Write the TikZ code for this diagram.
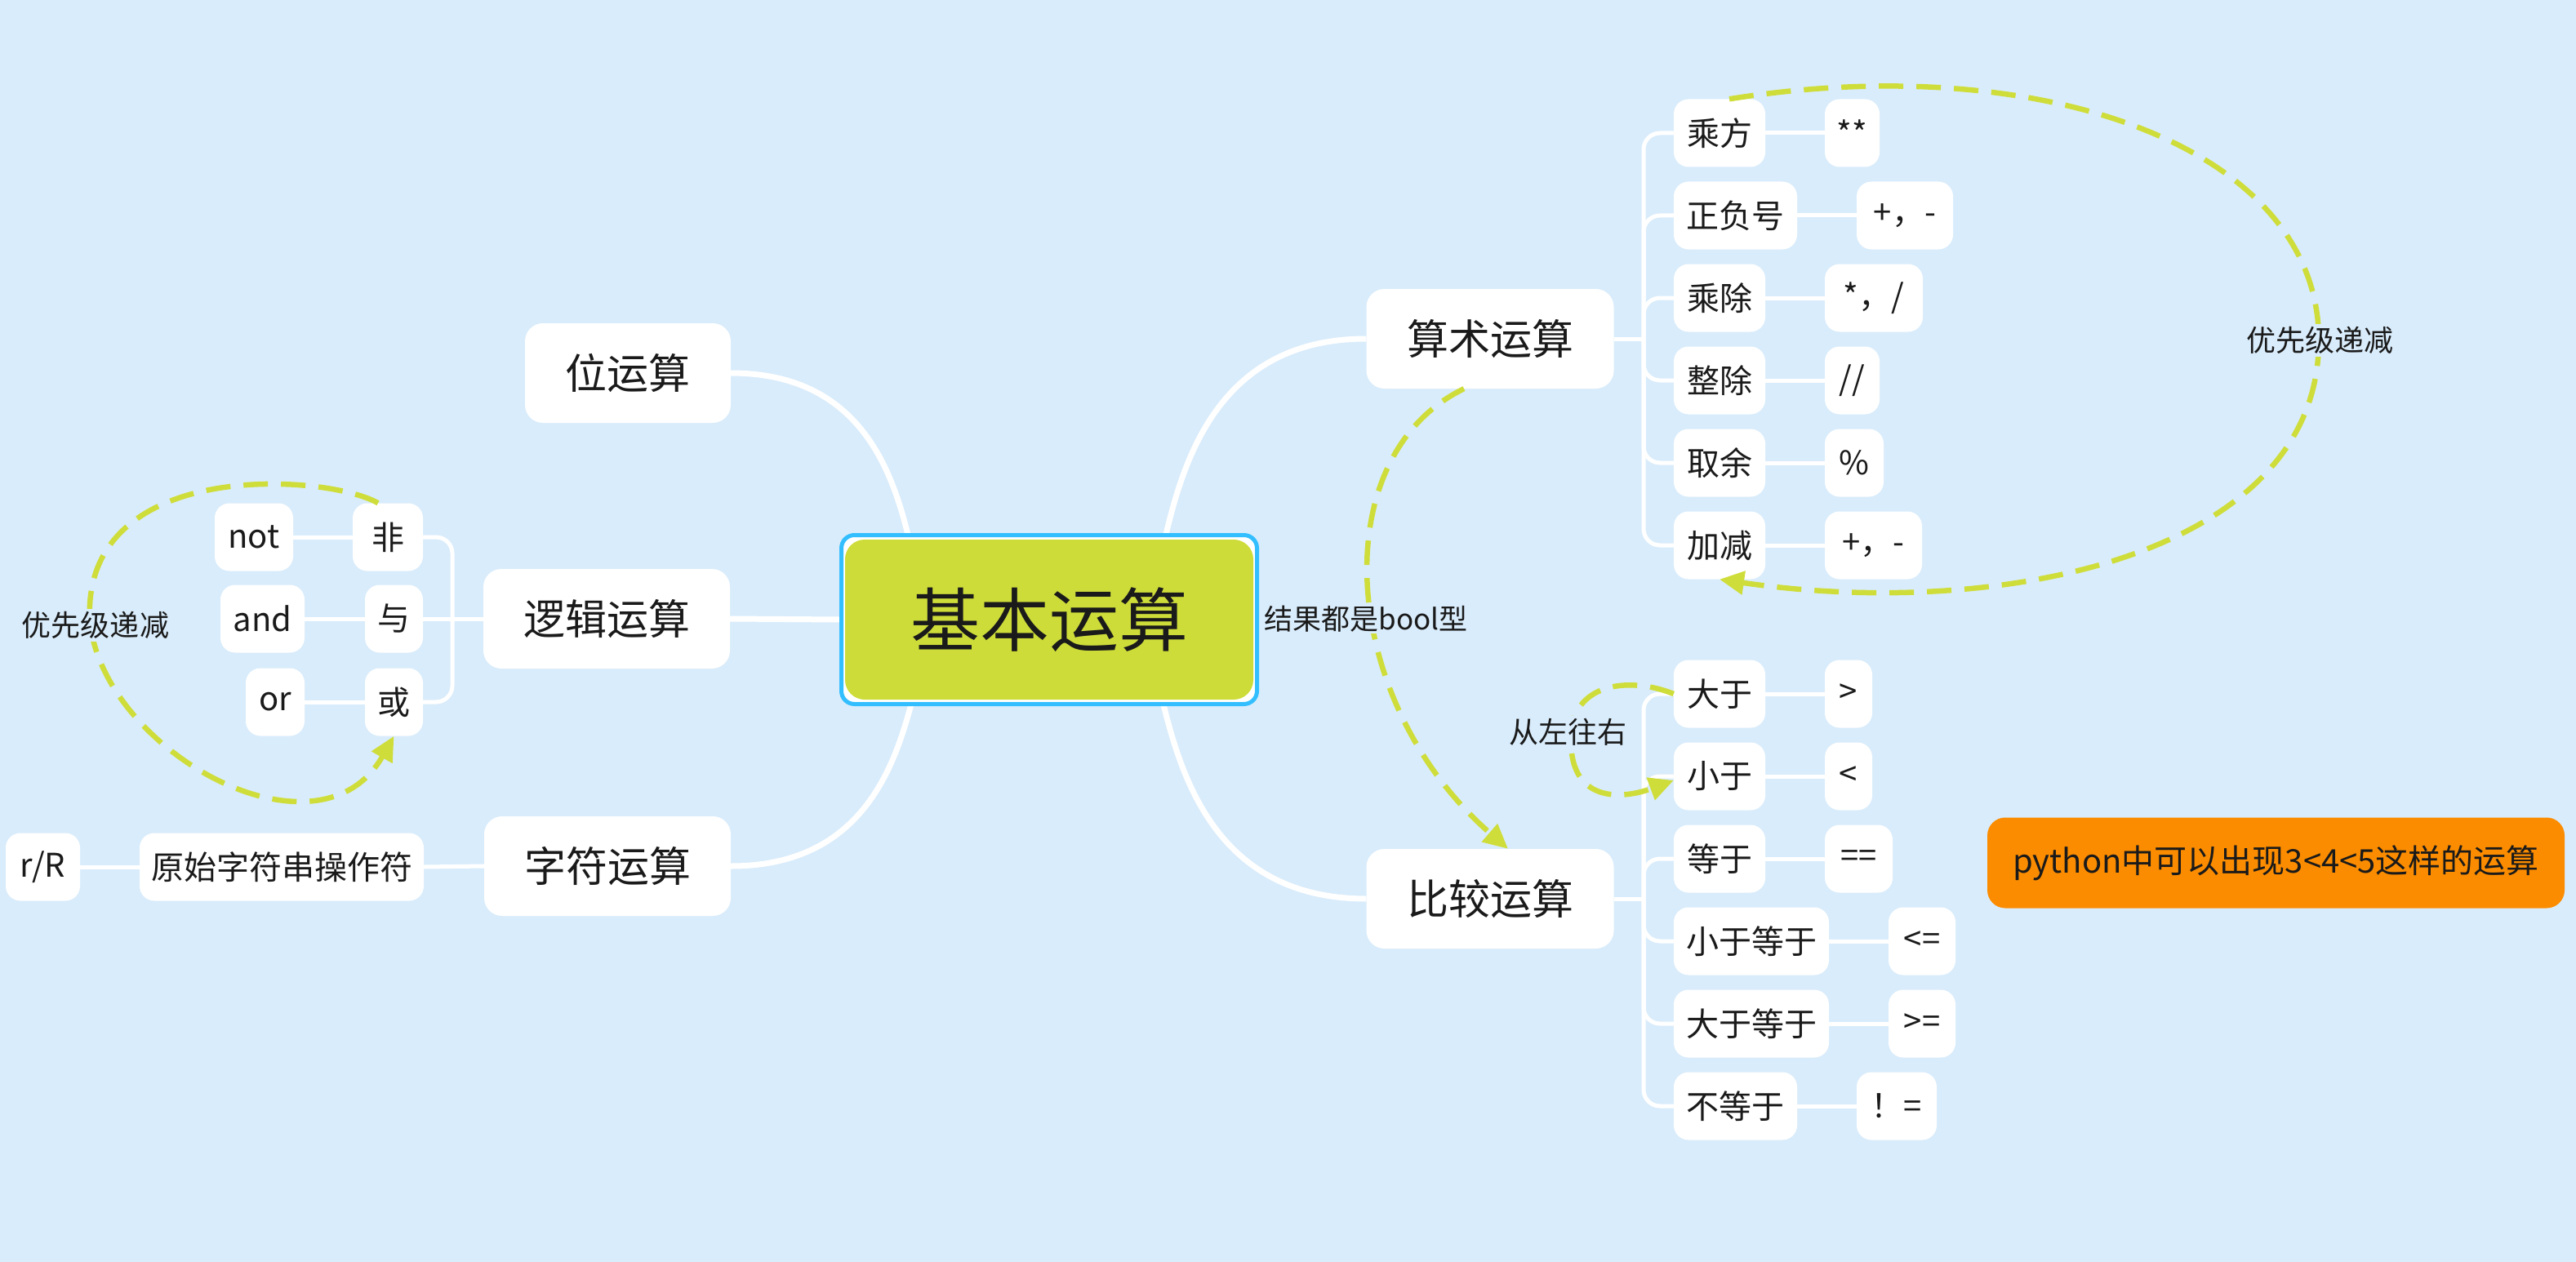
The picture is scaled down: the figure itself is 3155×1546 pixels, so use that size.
\documentclass[tikz,border=0pt]{standalone}
\usepackage{fontspec}
\setmainfont{Noto Sans CJK SC}
\usetikzlibrary{arrows.meta}
\definecolor{bg}{RGB}{217,236,251}
\definecolor{cblue}{RGB}{51,190,255}
\definecolor{cgreen}{RGB}{205,220,57}
\definecolor{dgreen}{RGB}{207,221,58}
\definecolor{corange}{RGB}{251,140,0}
\definecolor{txt}{RGB}{26,26,26}
\pgfdeclarelayer{bglayer}
\pgfdeclarelayer{lines}
\pgfsetlayers{bglayer,lines,main}
\tikzset{
  lone/.style={fill=white, rounded corners=22pt, minimum height=122pt, inner sep=0pt, text=txt, font=\fontsize{51}{60}\selectfont},
  ltwo/.style={fill=white, rounded corners=18pt, minimum height=83pt, inner sep=0pt, text=txt, font=\fontsize{40}{48}\selectfont},
  lab/.style={fill=bg, inner sep=3pt, text=txt, font=\fontsize{36}{44}\selectfont},
  mainline/.style={draw=white, line width=7pt},
  subline/.style={draw=white, line width=5pt},
  trunkline/.style={draw=white, line width=5pt, rounded corners=20pt},
  dashline/.style={draw=dgreen, line width=6.5pt, dash pattern=on 30pt off 16pt},
  arr/.style={-{Triangle[length=30pt,width=28pt]}}
}
\begin{document}
\begin{tikzpicture}[x=1pt,y=-1pt]
\useasboundingbox (0,0) rectangle (3155,1546);
\begin{pgfonlayer}{bglayer}
\fill[bg] (0,0) rectangle (3155,1546);
\end{pgfonlayer}

% central node
\node[draw=cblue, line width=5pt, fill=white, rounded corners=16pt, minimum width=509pt, minimum height=207pt, inner sep=0pt] (c) at (1285,759) {};
\node[fill=cgreen, rounded corners=24pt, minimum width=500pt, minimum height=196pt, inner sep=0pt, text=txt, font=\fontsize{85}{100}\selectfont] (cin) at (c.center) {基本运算};

% level 1
\node[lone, minimum width=252pt] (wei) at (769,457) {位运算};
\node[lone, minimum width=302pt] (lg) at (743,758) {逻辑运算};
\node[lone, minimum width=302pt] (zf) at (744,1061) {字符运算};
\node[lone, minimum width=303pt] (ar) at (1825,415) {算术运算};
\node[lone, minimum width=303pt] (cmp) at (1825,1101) {比较运算};

% logic children
\node[ltwo, minimum width=86pt] (fei) at (475,658) {非};
\node[ltwo, minimum width=96pt] (nt) at (311,658) {not};
\node[ltwo, minimum width=71pt] (yu) at (482.5,758) {与};
\node[ltwo, minimum width=103pt] (nd) at (321.5,758) {and};
\node[ltwo, minimum width=71pt] (huo) at (482.5,860) {或};
\node[ltwo, minimum width=72pt] (orr) at (337,860) {or};

% string children
\node[ltwo, minimum width=348pt] (ys) at (345,1062) {原始字符串操作符};
\node[ltwo, minimum width=91pt] (rr) at (52.5,1062) {r/R};

% arithmetic children
\node[ltwo, minimum width=112pt] (a1) at (2106,163) {乘方};
\node[ltwo, minimum width=67pt] (b1) at (2268.5,163) {**};
\node[ltwo, minimum width=151pt] (a2) at (2125.5,264) {正负号};
\node[ltwo, minimum width=118pt] (b2) at (2333,264) {+，-};
\node[ltwo, minimum width=112pt] (a3) at (2106,365) {乘除};
\node[ltwo, minimum width=120pt] (b3) at (2295,365) {*，/};
\node[ltwo, minimum width=112pt] (a4) at (2106,466) {整除};
\node[ltwo, minimum width=67pt] (b4) at (2268.5,466) {//};
\node[ltwo, minimum width=112pt] (a5) at (2106,567) {取余};
\node[ltwo, minimum width=72pt] (b5) at (2271,567) {\%};
\node[ltwo, minimum width=112pt] (a6) at (2106,668) {加减};
\node[ltwo, minimum width=119pt] (b6) at (2294.5,668) {+，-};

% comparison children
\node[ltwo, minimum width=112pt] (k1) at (2106,850) {大于};
\node[ltwo, minimum width=58pt] (m1) at (2264,850) {>};
\node[ltwo, minimum width=112pt] (k2) at (2106,951) {小于};
\node[ltwo, minimum width=58pt] (m2) at (2264,951) {<};
\node[ltwo, minimum width=112pt] (k3) at (2106,1052) {等于};
\node[ltwo, minimum width=83pt] (m3) at (2276.5,1052) {==};
\node[ltwo, minimum width=190pt] (k4) at (2145,1153) {小于等于};
\node[ltwo, minimum width=82pt] (m4) at (2354,1153) {<=};
\node[ltwo, minimum width=190pt] (k5) at (2145,1254) {大于等于};
\node[ltwo, minimum width=82pt] (m5) at (2354,1254) {>=};
\node[ltwo, minimum width=151pt] (k6) at (2125.5,1355) {不等于};
\node[ltwo, minimum width=98pt] (m6) at (2323,1355) {！=};

% floating note
\node[fill=corange, rounded corners=22pt, minimum width=707pt, minimum height=111pt, inner sep=0pt, text=txt, font=\fontsize{40}{48}\selectfont] (note) at (2787.5,1057) {python中可以出现3<4<5这样的运算};

% trunk points
\coordinate (lgT) at (554,758);
\coordinate (arT) at (2013,415);
\coordinate (cmT) at (2013,1101);

\begin{pgfonlayer}{lines}
% main curves
\draw[mainline] (wei.east) .. controls (1054,457) and (1093,578) .. ([xshift=-172pt,yshift=-6pt]c.north);
\draw[mainline] (zf.east) .. controls (1057,1061) and (1096,937) .. ([xshift=-168pt,yshift=6pt]c.south);
\draw[mainline] (ar.west) .. controls (1494,415) and (1450,561) .. ([xshift=142pt,yshift=-6pt]c.north);
\draw[mainline] (cmp.west) .. controls (1491,1101) and (1447,953) .. ([xshift=139pt,yshift=6pt]c.south);
\draw[mainline] (lg.east) -- (c.west);
% logic
\draw[subline] (lg.west) -- (lgT);
\draw[trunkline] (lgT) |- (fei.east);
\draw[subline] (lgT) -- (yu.east);
\draw[trunkline] (lgT) |- (huo.east);
\draw[subline] (nt.east) -- (fei.west);
\draw[subline] (nd.east) -- (yu.west);
\draw[subline] (orr.east) -- (huo.west);
% string
\draw[subline] (zf.west) -- (ys.east);
\draw[subline] (ys.west) -- (rr.east);
% arithmetic
\draw[subline] (ar.east) -- (arT);
\foreach \i in {1,...,6} {
  \draw[trunkline] (arT) |- (a\i.west);
  \draw[subline] (a\i.east) -- (b\i.west);
}
% comparison
\draw[subline] (cmp.east) -- (cmT);
\foreach \i in {1,...,6} {
  \draw[trunkline] (cmT) |- (k\i.west);
  \draw[subline] (k\i.east) -- (m\i.west);
}
\end{pgfonlayer}

% dashed relations
\draw[dashline, arr] ([xshift=-12pt]fei.north) .. controls (400,580) and (100,560) .. (110,760) .. controls (125,920) and (390,1065) .. (huo.south);
\draw[dashline, arr] ([xshift=12pt]a1.north) .. controls (2500,60) and (2840,180) .. (2840,417) .. controls (2840,680) and (2450,760) .. (a6.south);
\draw[dashline, arr] ([xshift=-32pt]ar.south) .. controls (1620,560) and (1640,860) .. ([xshift=22pt]cmp.north);
\draw[dashline, arr] (k1.west) .. controls (2000,830) and (1935,835) .. (1925,890) .. controls (1915,985) and (1985,980) .. ([yshift=-5pt]k2.west);

% labels
\node[lab] (l1) at (117,766) {优先级递减};
\node[lab] (l2) at (2841,417) {优先级递减};
\node[lab, font=\fontsize{35}{42}\selectfont, inner sep=2pt] (l3) at (1673,758) {结果都是bool型};
\node[lab] (l4) at (1920,897) {从左往右};
\end{tikzpicture}
\end{document}
